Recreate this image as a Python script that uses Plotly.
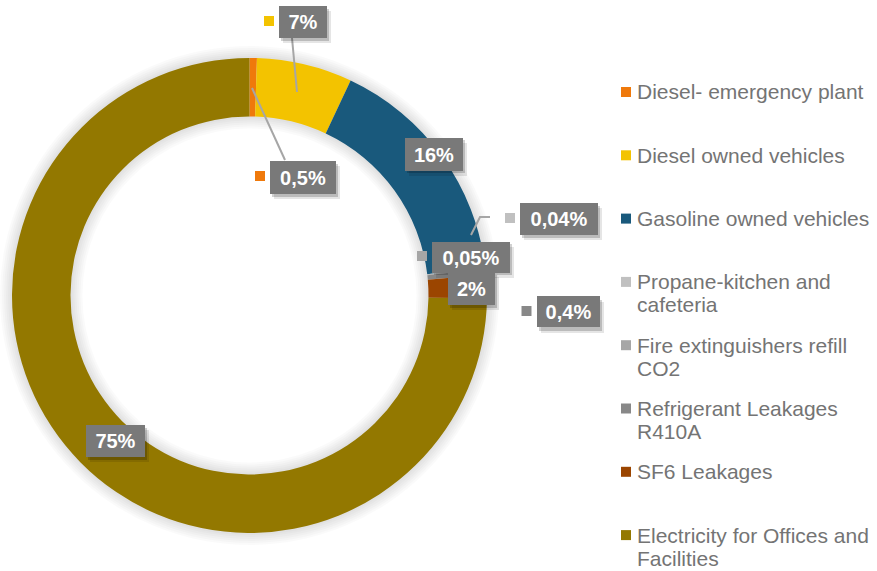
import plotly.graph_objects as go

# ---------------- data ----------------
categories = [
    "Diesel- emergency plant",
    "Diesel owned vehicles",
    "Gasoline owned vehicles",
    "Propane-kitchen and cafeteria",
    "Fire extinguishers refill CO2",
    "Refrigerant Leakages R410A",
    "SF6 Leakages",
    "Electricity for Offices and Facilities",
]
legend_lines = [
    ["Diesel- emergency plant"],
    ["Diesel owned vehicles"],
    ["Gasoline owned vehicles"],
    ["Propane-kitchen and", "cafeteria"],
    ["Fire extinguishers refill", "CO2"],
    ["Refrigerant Leakages", "R410A"],
    ["SF6 Leakages"],
    ["Electricity for Offices and", "Facilities"],
]
values = [0.5, 6.5, 16.1, 0.04, 0.05, 0.4, 1.6, 74.8]
value_labels = ["0,5%", "7%", "16%", "0,04%", "0,05%", "0,4%", "2%", "75%"]
colors = ["#EF790B", "#F3C300", "#19597C", "#C0C0C0", "#A6A6A6", "#888888", "#9B4500", "#937800"]

# ---------------- layout helpers ----------------
W, H = 877, 571
CX, CY, R_OUT, R_IN = 249.5, 295.5, 237.5, 179.0


def px(x):
    return x / W


def py(y):
    return 1 - y / H


def domain_for(r):
    return dict(x=[max(px(CX - r), 0), min(px(CX + r), 1)],
                y=[max(py(CY + r), 0), min(py(CY - r), 1)])


fig = go.Figure()

# soft shadow around the ring
for k in range(6, 0, -1):
    grow = 2 * k
    ro = R_OUT + grow
    ri = max(R_IN - grow, 1)
    fig.add_trace(go.Pie(
        values=[1], labels=["shadow"], domain=domain_for(ro), hole=ri / ro,
        marker=dict(colors=["rgba(0,0,0,0.02)"], line=dict(width=0)),
        textinfo="none", hoverinfo="skip", showlegend=False, sort=False,
    ))

fig.add_trace(go.Pie(
    labels=categories, values=values, domain=domain_for(R_OUT), hole=R_IN / R_OUT,
    sort=False, direction="clockwise", rotation=0,
    marker=dict(colors=colors, line=dict(width=0)),
    textinfo="none", hoverinfo="label+percent", showlegend=False,
))

shapes = []
annotations = []

# leader lines (pixel layout)
leaders = [
    [(297, 92), (292, 38)],
    [(252, 88), (285, 160)],
    [(471, 235), (480, 217), (490, 217)],
]
for pts in leaders:
    path = "M " + " L ".join(f"{px(x)},{py(y)}" for x, y in pts)
    shapes.append(dict(type="path", xref="paper", yref="paper", path=path,
                       line=dict(color="#A6A6A6", width=2)))

# data label boxes (pixel layout: center x, center y, width, height, has marker)
label_boxes = [
    (303, 177, 66, 33, True),
    (303, 22, 48, 32, True),
    (434, 154, 58, 33, False),
    (559, 219, 78, 32, True),
    (471, 257, 78, 31, True),
    (568, 312, 63, 31, True),
    (471, 288, 47, 33, False),
    (115, 441, 59, 32, False),
]
for i, (bx, by, bw, bh, mk) in enumerate(label_boxes):
    for dx, dy, a in [(4, 5, 0.10), (2, 3, 0.18)]:
        annotations.append(dict(
            x=px(bx + dx), y=py(by + dy), xref="paper", yref="paper",
            xanchor="center", yanchor="middle", text=" ", showarrow=False,
            width=bw, height=bh, borderpad=0, borderwidth=0,
            bgcolor=f"rgba(0,0,0,{a})"))
    annotations.append(dict(
        x=px(bx), y=py(by), xref="paper", yref="paper",
        xanchor="center", yanchor="middle", showarrow=False,
        text=f"<b>{value_labels[i]}</b>", width=bw, height=bh,
        borderpad=0, borderwidth=0, bgcolor="#797979", align="center", valign="middle",
        font=dict(family="Liberation Sans, Arial, sans-serif", size=20, color="white")))
    if mk:
        mx = bx - bw / 2 - 10
        shapes.append(dict(type="rect", xref="paper", yref="paper",
                           x0=px(mx - 5), x1=px(mx + 5), y0=py(by - 5 - 1), y1=py(by + 5 - 1),
                           fillcolor=colors[i], line=dict(width=0)))

# custom legend
LEG_X, LEG_Y0, LEG_STEP, LINE_H = 621, 92, 63.3, 23
for i, lines in enumerate(legend_lines):
    yc = LEG_Y0 + LEG_STEP * i
    shapes.append(dict(type="rect", xref="paper", yref="paper",
                       x0=px(LEG_X), x1=px(LEG_X + 10), y0=py(yc + 5), y1=py(yc - 5),
                       fillcolor=colors[i], line=dict(width=0)))
    for j, line in enumerate(lines):
        annotations.append(dict(
            x=px(LEG_X + 14), y=py(yc + j * LINE_H), xref="paper", yref="paper",
            xanchor="left", yanchor="middle", showarrow=False, text=line,
            font=dict(family="Liberation Sans, Arial, sans-serif", size=21, color="#747474")))

fig.update_layout(
    width=W, height=H, margin=dict(l=0, r=0, t=0, b=0),
    paper_bgcolor="white", plot_bgcolor="white",
    shapes=shapes, annotations=annotations, showlegend=False,
)

fig.write_html(
    "out.html",
    config={"displayModeBar": False},
    post_script="document.body.style.margin='0';document.body.style.padding='0';"
                "document.body.style.overflow='hidden';",
)
